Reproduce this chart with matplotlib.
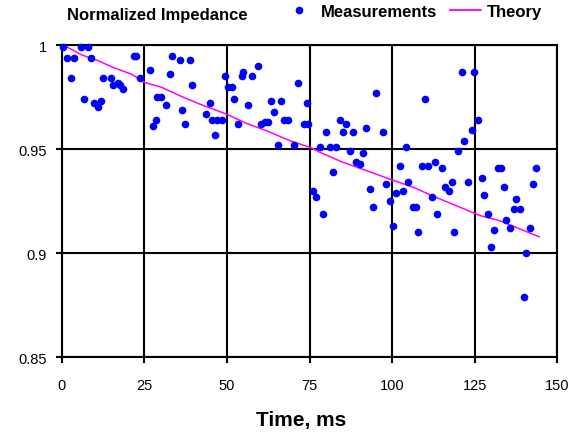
import numpy as np
import matplotlib.pyplot as plt
from matplotlib.lines import Line2D
from matplotlib.ticker import FuncFormatter

plt.rcParams['font.family'] = ['Liberation Sans', 'DejaVu Sans']

meas_t = [0.4, 5.8, 8.0, 1.7, 3.7, 8.8, 21.7, 22.6, 2.7, 12.6, 14.8, 15.5, 17.1, 18.4,
          17.7, 23.6, 6.7, 9.6, 10.8, 11.8, 26.7, 33.5, 35.8, 32.7, 28.8, 30.0, 31.5,
          36.3, 28.5, 27.7, 37.3, 38.8, 39.4, 44.8, 43.6, 45.4, 47.1, 48.4, 46.4, 49.4,
          50.4, 51.6, 52.1, 53.3, 54.9, 54.5, 57.5, 59.4, 56.4, 60.4, 61.5, 62.5, 63.3,
          64.2, 66.4, 67.3, 68.6, 71.4, 74.3, 73.3, 74.6, 65.4, 70.3, 95.2, 110.0, 84.2,
          86.1, 85.1, 88.1, 92.1, 97.2, 80.0, 78.2, 81.2, 83.0, 87.3, 91.1, 89.1, 90.3,
          82.0, 104.2, 102.4, 109.0, 110.8, 113.0, 115.0, 93.3, 98.2, 104.8, 76.0, 77.0,
          101.2, 103.2, 112.0, 99.4, 94.2, 106.3, 107.1, 79.0, 100.2, 107.8, 113.7,
          121.1, 124.8, 126.1, 124.2, 121.7, 119.9, 118.1, 116.1, 117.1, 122.9, 127.2,
          132.2, 132.9, 143.6, 142.6, 133.9, 127.9, 137.6, 136.8, 138.6, 129.1, 134.5,
          135.8, 141.8, 130.9, 118.7, 129.9, 140.6, 139.9]
meas_z = [0.999, 0.999, 0.999, 0.994, 0.994, 0.994, 0.995, 0.995, 0.984, 0.984, 0.984,
          0.981, 0.982, 0.979, 0.981, 0.984, 0.974, 0.972, 0.970, 0.973, 0.988, 0.995,
          0.993, 0.986, 0.975, 0.975, 0.971, 0.969, 0.964, 0.961, 0.962, 0.993, 0.981,
          0.972, 0.967, 0.964, 0.964, 0.964, 0.957, 0.985, 0.980, 0.980, 0.974, 0.962,
          0.987, 0.985, 0.985, 0.990, 0.971, 0.962, 0.963, 0.963, 0.973, 0.968, 0.973,
          0.964, 0.964, 0.982, 0.972, 0.962, 0.962, 0.952, 0.952, 0.977, 0.974, 0.964,
          0.962, 0.958, 0.958, 0.960, 0.958, 0.958, 0.951, 0.951, 0.951, 0.949, 0.948,
          0.944, 0.943, 0.939, 0.951, 0.942, 0.942, 0.942, 0.944, 0.941, 0.931, 0.933,
          0.934, 0.930, 0.927, 0.929, 0.930, 0.927, 0.925, 0.922, 0.922, 0.922, 0.919,
          0.913, 0.910, 0.919, 0.987, 0.987, 0.964, 0.959, 0.954, 0.949, 0.934, 0.932,
          0.930, 0.934, 0.936, 0.941, 0.941, 0.941, 0.933, 0.932, 0.928, 0.926, 0.921,
          0.921, 0.919, 0.916, 0.912, 0.912, 0.911, 0.910, 0.903, 0.900, 0.879]

# theory curve
theory_t = [0.0, 1.4, 6.0, 11.0, 15.5, 21.1, 25.2, 30.2, 35.8, 41.8, 49.9, 56.0, 62.0,
            69.1, 75.2, 78.2, 85.2, 92.3, 99.4, 106.5, 111.5, 114.5, 120.6, 126.7,
            132.7, 138.8, 144.6]
theory_z = [1.000, 0.9992, 0.9953, 0.9925, 0.9893, 0.986, 0.982, 0.9797, 0.9756,
            0.9716, 0.9668, 0.9623, 0.9588, 0.954, 0.9508, 0.9484, 0.9436, 0.9396,
            0.9355, 0.9316, 0.9280, 0.926, 0.922, 0.918, 0.9155, 0.9115, 0.9078]

x_ticks = [0, 25, 50, 75, 100, 125, 150]
y_ticks = [0.85, 0.9, 0.95, 1.0]

fig = plt.figure(figsize=(5.78, 4.35), dpi=100)
ax = fig.add_axes([0.107, 0.177, 0.857, 0.717])

ax.plot(theory_t, theory_z, color='#FF00FF', lw=1.1, zorder=3)
ax.plot(meas_t, meas_z, 'o', color='#0000FF', ms=5.5, mec='none', zorder=4, clip_on=False)

ax.set_xlim(0, 150)
ax.set_ylim(0.85, 1.0)
ax.set_xticks(x_ticks)
ax.set_yticks(y_ticks)
ax.yaxis.set_major_formatter(FuncFormatter(lambda v, p: f'{v:g}'))
ax.grid(True, color='black', lw=1.5, zorder=1)
ax.set_axisbelow(True)
for s in ax.spines.values():
    s.set_color('black')
    s.set_linewidth(1.5)
ax.tick_params(axis='x', length=4, width=1.5, pad=11, labelsize=10.5)
ax.tick_params(axis='y', length=4, width=1.5, pad=7, labelsize=10.5)

fig.text(0.521, 0.034, 'Time, ms', fontsize=15, fontweight='bold',
         ha='center', va='center')

fig.text(0.273, 0.965, 'Normalized Impedance', fontsize=12, fontweight='bold',
         ha='center', va='center')

handles = [Line2D([], [], ls='none', marker='o', color='#0000FF', ms=5.5, mec='none'),
           Line2D([], [], color='#FF00FF', lw=1.3)]
fig.legend(handles, ['Measurements', 'Theory'], loc='center', ncol=2,
           bbox_to_anchor=(0.714, 0.972), frameon=False,
           prop={'weight': 'bold', 'size': 12}, handlelength=1.86,
           columnspacing=0.78, handletextpad=0.36)

fig.savefig('out.png', dpi=100)
